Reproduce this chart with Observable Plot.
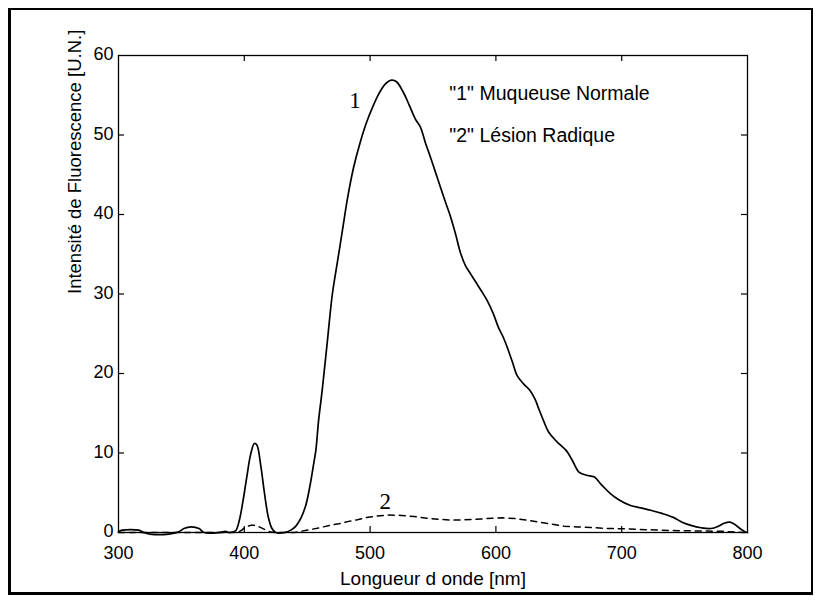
<!DOCTYPE html>
<html><head><meta charset="utf-8">
<script src="https://cdn.jsdelivr.net/npm/d3@7"></script>
<script src="https://cdn.jsdelivr.net/npm/@observablehq/plot@0.6"></script>
<style>
body{margin:0;background:#fff;}
#wrap{position:relative;width:821px;height:601px;background:#fff;}
#frame{position:absolute;left:8px;top:8px;width:805px;height:587px;box-sizing:border-box;border:3px solid #000;border-top-width:2px;border-right-width:2px;pointer-events:none;}
</style></head><body>
<div id="wrap"><div id="chart"></div><div id="frame"></div></div>
<script>
// Curve "1" : Muqueuse Normale
const wavelength1 = [300,303,316,320,325,340,348,352,358,364,368,380,385,388,393,396,399,402,405,408,410,413,416,419,422,425,432,437,441,445,449,452,455,457,459,462,466,470,474,478,482,487,492,497,502,507,512,517,521,526,531,536,540,544,548,552,556,560,564,568,572,576,580,584,588,593,598,602,606,609,613,617,622,627,631,634,638,642,648,656,661,666,672,678,684,691,698,707,715,723,732,741,748,755,763,771,777,782,786,790,794,798,800];
const intensity1 = [0.1,0.3,0.3,0,-0.2,-0.2,0.1,0.5,0.7,0.5,0,0,0.15,0,0.2,1.5,4,7,9.8,11.2,11,8.5,5,2,0.5,0,0,0.3,0.8,1.8,3.5,5.7,8.5,10.5,14,18,24,30,34,38,42,46,49,51.5,53.5,55.2,56.4,56.9,56.7,55.5,53.8,52,51,49,47.2,45.3,43.4,41.5,39.7,37.5,35.1,33.5,32.5,31.5,30.5,29.2,27.5,25.8,24.5,23.3,21.5,19.7,18.7,17.9,16.8,15.6,14,12.6,11.5,10.3,9,7.6,7.2,7.0,6,4.9,4.1,3.4,3.1,2.8,2.4,1.9,1.3,0.9,0.6,0.5,0.8,1.2,1.3,1.0,0.5,0.1,0];
// Curve "2" : Lésion Radique
const wavelength2 = [300,395,398,401,405,408,412,416,420,424,440,445,452,460,468,475,483,490,497,505,515,525,535,545,555,565,575,588,597,605,615,627,640,654,665,678,690,704,720,739,760,780,797,800];
const intensity2 = [0,0,0.3,0.7,0.9,0.9,0.7,0.4,0.1,0,0,0.15,0.35,0.6,0.9,1.1,1.4,1.6,1.9,2.05,2.2,2.15,2.0,1.8,1.65,1.55,1.6,1.7,1.8,1.85,1.75,1.5,1.15,0.8,0.7,0.6,0.5,0.45,0.35,0.25,0.2,0.15,0,0];

const xTickLabels = [300,400,500,600,700,800];
const yTickLabels = [0,10,20,30,40,50,60];
const xInnerTicks = [400,500,600,700];
const yInnerTicks = [10,20,30,40,50];

const xTitle = "Longueur d onde [nm]";
const yTitle = "Intensité de Fluorescence [U.N.]";
const legendLines = ['"1" Muqueuse Normale', '"2" Lésion Radique'];
const legendX = [563, 563];
const legendY = [55.2, 49.9];
const curveLabels = ["1", "2"];
const curveLabelX = [488, 512];
const curveLabelY = [54.3, 3.9];

const s1 = wavelength1.map((x, i) => ({x, y: intensity1[i]}));
const s2 = wavelength2.map((x, i) => ({x, y: intensity2[i]}));
const legend = legendLines.map((t, i) => ({t, x: legendX[i], y: legendY[i]}));
const clabels = curveLabels.map((t, i) => ({t, x: curveLabelX[i], y: curveLabelY[i]}));

const W = 821, H = 601, mL = 118, mR = 74, mT = 55, mB = 69;
const ph = H - mT - mB, pw = W - mL - mR, tk = 6;
const sans = "'Liberation Sans', Arial, Helvetica, sans-serif";

const chart = Plot.plot({
  width: W, height: H,
  marginLeft: mL, marginRight: mR, marginTop: mT, marginBottom: mB,
  x: {domain: [300, 800]},
  y: {domain: [0, 60]},
  style: {fontFamily: sans, fontSize: "18px", color: "#000", background: "#fff"},
  marks: [
    Plot.frame({stroke: "#000", strokeWidth: 1.3}),
    Plot.ruleX(xInnerTicks, {x: d => d, insetTop: ph - tk, stroke: "#000", strokeWidth: 1.2}),
    Plot.ruleX(xInnerTicks, {x: d => d, insetBottom: ph - tk, stroke: "#000", strokeWidth: 1.2}),
    Plot.ruleY(yInnerTicks, {y: d => d, insetRight: pw - tk, stroke: "#000", strokeWidth: 1.2}),
    Plot.ruleY(yInnerTicks, {y: d => d, insetLeft: pw - tk, stroke: "#000", strokeWidth: 1.2}),
    Plot.axisX(xTickLabels, {tickSize: 0, tickPadding: 14, fontSize: 18, label: null, fill: "#000"}),
    Plot.axisY(yTickLabels, {tickSize: 0, tickPadding: 5, dy: -1, fontSize: 18, label: null, fill: "#000"}),
    Plot.text([xTitle], {text: d => d, frameAnchor: "bottom", dy: 46, lineAnchor: "middle", fontSize: 19, fill: "#000"}),
    Plot.text([yTitle], {text: d => d, frameAnchor: "left", dx: -43, rotate: -90, lineAnchor: "middle", fontSize: 18.5, fill: "#000"}),
    Plot.line(s2, {x: "x", y: "y", stroke: "#000", strokeWidth: 1.5, strokeDasharray: "6,5"}),
    Plot.line(s1, {x: "x", y: "y", stroke: "#000", strokeWidth: 1.7, curve: "catmull-rom"}),
    Plot.text(legend, {x: "x", y: "y", text: "t", textAnchor: "start", lineAnchor: "middle", fontSize: 19.5, fill: "#000"}),
    Plot.text(clabels, {x: "x", y: "y", text: "t", lineAnchor: "middle", fontSize: 23, fontFamily: "'Liberation Serif', 'Times New Roman', serif", fill: "#000"})
  ]
});
document.getElementById("chart").appendChild(chart);
</script>
</body></html>
